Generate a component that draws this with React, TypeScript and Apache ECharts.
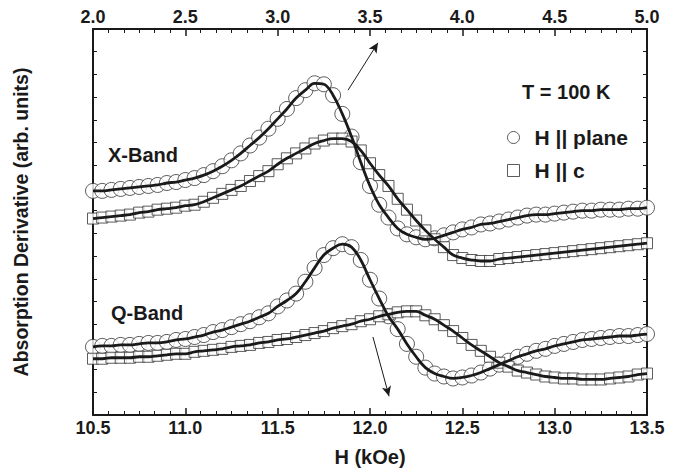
import React, { useEffect, useRef } from "react";
import * as echarts from "echarts";

// Field values (kOe): X-band on top axis, Q-band on bottom axis
const hX = [2.00,2.05,2.10,2.15,2.20,2.25,2.30,2.35,2.40,2.45,2.50,2.55,2.60,2.65,2.70,2.75,2.80,2.85,2.90,2.95,3.00,3.05,3.10,3.15,3.20,3.25,3.30,3.35,3.40,3.45,3.50,3.55,3.60,3.65,3.70,3.75,3.80,3.85,3.90,3.95,4.00,4.05,4.10,4.15,4.20,4.25,4.30,4.35,4.40,4.45,4.50,4.55,4.60,4.65,4.70,4.75,4.80,4.85,4.90,4.95,5.00];
const hQ = [10.50,10.55,10.60,10.65,10.70,10.75,10.80,10.85,10.90,10.95,11.00,11.05,11.10,11.15,11.20,11.25,11.30,11.35,11.40,11.45,11.50,11.55,11.60,11.65,11.70,11.75,11.80,11.85,11.90,11.95,12.00,12.05,12.10,12.15,12.20,12.25,12.30,12.35,12.40,12.45,12.50,12.55,12.60,12.65,12.70,12.75,12.80,12.85,12.90,12.95,13.00,13.05,13.10,13.15,13.20,13.25,13.30,13.35,13.40,13.45,13.50];

// Absorption derivative (arb. units, vertically offset)
const xBandPlane = [227,227,228,229,230,231,232,233,235,236,238,240,243,247,252,258,265,273,281,290,300,310,321,329,336,335,324,305,282,256,232,213,200,189,183,180,178,179,182,185,188,190,193,194,196,198,200,202,203,203,204,205,206,207,207,208,208,208,209,209,210];
const xBandC = [199,200,201,202,203,205,206,208,209,210,212,213,216,220,224,228,232,237,242,247,254,260,265,270,275,278,280,280,277,268,255,243,232,219,208,197,187,178,170,162,159,157,156,156,158,159,160,161,162,163,164,165,166,167,168,169,170,171,172,173,174];
const qBandPlane = [69,70,70,71,71,72,73,73,74,76,77,79,81,84,86,89,92,95,99,103,110,116,123,135,149,162,169,173,170,157,137,118,100,87,72,59,48,42,39,37,38,40,43,47,51,55,59,62,65,67,70,72,74,76,77,78,79,80,80,81,82];
const qBandC = [57,57,58,58,58,59,59,60,61,62,62,64,65,66,67,69,70,71,73,74,76,77,79,81,83,85,88,90,92,95,97,100,102,104,105,105,101,97,91,85,78,71,65,59,53,49,45,43,41,39,38,37,37,36,36,36,37,38,39,41,42];

const bottomTicks = ["10.5","11.0","11.5","12.0","12.5","13.0","13.5"];
const topTicks = ["2.0","2.5","3.0","3.5","4.0","4.5","5.0"];

// Arrow annotations (field, value)
const arrowX = [[3.381, 329], [3.543, 377]];
const arrowQ = [[12.016, 79], [12.103, 19]];

const FONT = "'Liberation Sans', Arial, Helvetica, sans-serif";
const INK = "#1a1a1a";

const zip = (xs: number[], ys: number[]) => xs.map((x, i) => [x, ys[i]]);

export default function App() {
  const ref = useRef<HTMLDivElement>(null);
  useEffect(() => {
    document.body.style.margin = "0";
    const chart = echarts.init(ref.current!, null, { renderer: "svg" });
    const markerStyle = { color: "#ffffff", borderColor: "#333", borderWidth: 1 };
    const xAxisBase = (min: number, max: number, pos: "top" | "bottom", labels: string[]) => ({
      type: "value",
      position: pos,
      min,
      max,
      interval: 0.5,
      axisLine: { show: true, onZero: false, lineStyle: { color: INK, width: 2 } },
      axisTick: { show: true, inside: true, length: 7, lineStyle: { color: INK, width: 1.5 } },
      minorTick: { show: true, splitNumber: 6, length: 4, lineStyle: { color: INK, width: 1 } },
      splitLine: { show: false },
      axisLabel: {
        show: true,
        margin: pos === "bottom" ? 4 : 3,
        color: INK,
        fontFamily: FONT,
        fontWeight: "bold",
        fontSize: 18,
        formatter: (v: number) => labels.find((l) => Math.abs(parseFloat(l) - v) < 1e-6) ?? "",
      },
    });
    const yAxisBase = (pos: "left" | "right") => ({
      type: "value",
      position: pos,
      min: 0,
      max: 391,
      interval: 23,
      axisLine: { show: true, onZero: false, lineStyle: { color: INK, width: 2 } },
      axisTick: { show: true, inside: true, length: 4, lineStyle: { color: INK, width: 1 } },
      axisLabel: { show: false },
      splitLine: { show: false },
    });
    const scatter = (name: string, xi: number, xs: number[], ys: number[], symbol: string, size: number) => ({
      name,
      type: "scatter",
      xAxisIndex: xi,
      yAxisIndex: 0,
      data: zip(xs, ys),
      symbol,
      symbolSize: size,
      itemStyle: markerStyle,
      z: 2,
      silent: true,
    });
    const fit = (name: string, xi: number, xs: number[], ys: number[], arrow?: number[][]) => ({
      name,
      type: "line",
      xAxisIndex: xi,
      yAxisIndex: 0,
      data: zip(xs, ys),
      smooth: 0.4,
      showSymbol: false,
      lineStyle: { color: INK, width: 2.8 },
      z: 3,
      silent: true,
      markLine: arrow
        ? {
            silent: true,
            symbol: ["none", "arrow"],
            symbolSize: [7, 10],
            label: { show: false },
            lineStyle: { color: INK, width: 1, type: "solid" },
            data: [[{ coord: arrow[0] }, { coord: arrow[1] }]],
          }
        : undefined,
    });
    chart.setOption({
      animation: false,
      backgroundColor: "#ffffff",
      grid: { left: 93, right: 34, top: 29, bottom: 53 },
      xAxis: [
        {
          ...xAxisBase(10.5, 13.5, "bottom", bottomTicks),
          name: "H (kOe)",
          nameLocation: "middle",
          nameGap: 32,
          nameTextStyle: { color: INK, fontFamily: FONT, fontWeight: "bold", fontSize: 20 },
        },
        xAxisBase(2.0, 5.0, "top", topTicks),
      ],
      yAxis: [
        {
          ...yAxisBase("left"),
          name: "Absorption Derivative (arb. units)",
          nameLocation: "middle",
          nameGap: 62,
          nameTextStyle: { color: INK, fontFamily: FONT, fontWeight: "bold", fontSize: 19.5 },
        },
        yAxisBase("right"),
      ],
      legend: {
        orient: "vertical",
        left: 502,
        top: 122,
        itemWidth: 12,
        itemHeight: 12,
        itemGap: 12,
        selectedMode: false,
        textStyle: { color: INK, fontFamily: FONT, fontWeight: "bold", fontSize: 21, padding: [0, 0, 0, 10] },
        data: [
          { name: "H || plane", icon: "circle", itemStyle: markerStyle },
          { name: "H || c", icon: "rect", itemStyle: markerStyle },
        ],
      },
      graphic: [
        { type: "text", left: 108, top: 145, style: { text: "X-Band", fill: INK, font: `bold 20px ${FONT}` } },
        { type: "text", left: 111, top: 303, style: { text: "Q-Band", fill: INK, font: `bold 20px ${FONT}` } },
        { type: "text", left: 522, top: 82, style: { text: "T = 100 K", fill: INK, font: `bold 20px ${FONT}` } },
      ],
      series: [
        scatter("H || plane", 1, hX, xBandPlane, "circle", 15),
        scatter("H || c", 1, hX, xBandC, "rect", 11),
        scatter("H || plane", 0, hQ, qBandPlane, "circle", 15),
        scatter("H || c", 0, hQ, qBandC, "rect", 11),
        fit("X fit plane", 1, hX, xBandPlane, arrowX),
        fit("X fit c", 1, hX, xBandC),
        fit("Q fit plane", 0, hQ, qBandPlane, arrowQ),
        fit("Q fit c", 0, hQ, qBandC),
      ],
    });
    return () => chart.dispose();
  }, []);
  return <div ref={ref} style={{ width: 681, height: 472 }} />;
}
